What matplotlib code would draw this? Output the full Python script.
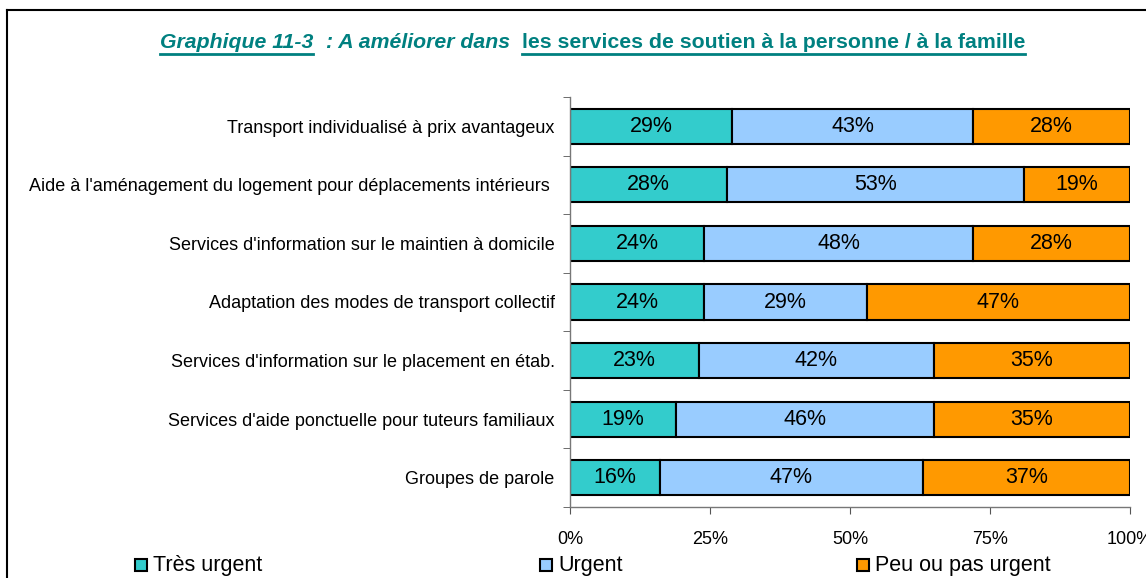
import matplotlib.pyplot as plt
import matplotlib.patches as mpatches
import matplotlib.lines as mlines

plt.rcParams['font.family'] = ['Liberation Sans', 'DejaVu Sans']

categories = [
    "Transport individualisé à prix avantageux",
    "Aide à l'aménagement du logement pour déplacements intérieurs ",
    "Services d'information sur le maintien à domicile",
    "Adaptation des modes de transport collectif",
    "Services d'information sur le placement en étab.",
    "Services d'aide ponctuelle pour tuteurs familiaux",
    "Groupes de parole",
]
tres_urgent = [29, 28, 24, 24, 23, 19, 16]
urgent = [43, 53, 48, 29, 42, 46, 47]
peu_urgent = [28, 19, 28, 47, 35, 35, 37]
series_names = ["Très urgent", "Urgent", "Peu ou pas urgent"]
colors = ['#33CCCC', '#99CCFF', '#FF9900']
xticks = [0, 25, 50, 75, 100]

W, H = 1146, 578
fig = plt.figure(figsize=(W / 100, H / 100), dpi=100)
ax = fig.add_axes([570 / W, 1 - 507 / H, 560 / W, 410 / H])

n = len(categories)
ypos = list(range(n))[::-1]
left = [0] * n
for vals, col in zip([tres_urgent, urgent, peu_urgent], colors):
    ax.barh(ypos, vals, left=left, height=0.6, color=col,
            edgecolor='black', linewidth=1.5)
    for y, l, v in zip(ypos, left, vals):
        ax.text(l + v / 2, y, f'{v}%', ha='center', va='center', fontsize=15.5)
    left = [a + b for a, b in zip(left, vals)]

ax.set_xlim(0, 100)
ax.set_ylim(-0.5, n - 0.5)
ax.set_xticks(xticks)
ax.set_xticklabels([f'{t}%' for t in xticks], fontsize=13)
ax.set_yticks(ypos)
ax.set_yticklabels(categories, fontsize=13)
ax.set_yticks([i - 0.5 for i in range(n + 1)], minor=True)
ax.tick_params(axis='y', which='major', length=0, pad=11)
ax.tick_params(axis='y', which='minor', length=5, color='#555555', direction='out')
ax.tick_params(axis='x', length=5, color='#555555', direction='out', pad=12)
for s in ['top', 'right']:
    ax.spines[s].set_visible(False)
for s in ['left', 'bottom']:
    ax.spines[s].set_color('#777777')
    ax.spines[s].set_linewidth(1)

# outer frame (cut off at right/bottom)
fig.add_artist(mlines.Line2D([7 / W, 1.01], [1 - 10 / H, 1 - 10 / H], color='black', lw=1.5))
fig.add_artist(mlines.Line2D([7 / W, 7 / W], [1 - 10 / H, -0.01], color='black', lw=1.5))

# title built from pieces, some underlined
teal = '#008080'
pieces = [
    (160, "Graphique 11-3", 'italic', True),
    (326, ": A améliorer dans", 'italic', False),
    (522, "les services de soutien à la personne / à la famille", 'normal', True),
]
fig.canvas.draw()
renderer = fig.canvas.get_renderer()
ty = 1 - 43 / H
for x, txt, style, under in pieces:
    t = fig.text(x / W, ty, txt, fontsize=15.3, fontweight='bold', style=style,
                 color=teal, ha='left', va='center')
    bb = t.get_window_extent(renderer)
    if under:
        uy = 1 - 54 / H
        fig.add_artist(mlines.Line2D([bb.x0 / W, bb.x1 / W], [uy, uy], color=teal, lw=2))

# legend at bottom
leg_x = [135, 540, 857]
ly = 565
for lx, name, col in zip(leg_x, series_names, colors):
    fig.add_artist(mpatches.Rectangle((lx / W, 1 - (ly + 6) / H), 12 / W, 12 / H,
                                      facecolor=col, edgecolor='black', lw=1.5,
                                      transform=fig.transFigure))
    fig.text((lx + 18) / W, 1 - ly / H, name, fontsize=15.5, va='center', ha='left')

fig.savefig('out.png', dpi=100)
